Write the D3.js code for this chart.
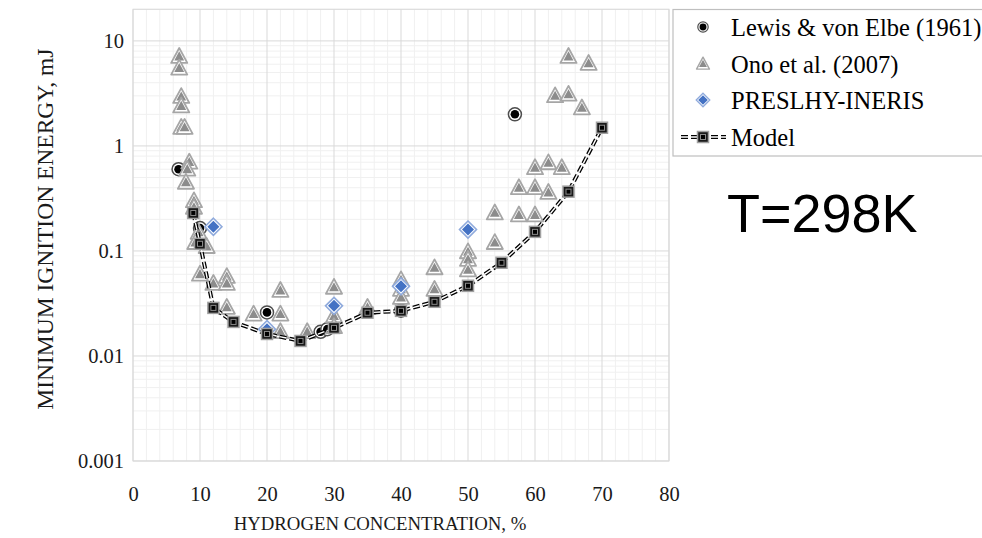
<!DOCTYPE html>
<html><head><meta charset="utf-8">
<script src="https://cdn.jsdelivr.net/npm/d3@7"></script>
<style>
html,body{margin:0;padding:0;background:#fff;}
svg{display:block;}
</style></head>
<body>
<svg id="chart" width="982" height="538"></svg>
<script>
// ---- data ----
const lewisX = [6.8, 10, 20, 28, 29, 40, 57];
const lewisY = [0.60, 0.165, 0.026, 0.017, 0.018, 0.027, 2.0];

const onoX = [6.9, 6.9, 7.2, 7.2, 7.2, 7.7, 8.4, 8.1, 7.9, 9.1, 9.1, 9.8, 9.3, 11, 10, 12, 14, 14, 14, 18, 22, 22, 22, 26, 30, 30, 30, 35, 40, 40, 40, 45, 45, 50, 50, 50, 54, 54, 57.6, 60, 57.6, 60, 62, 60, 62, 64, 63, 65, 67, 65, 68];
const onoY = [7.1, 5.5, 2.95, 2.4, 1.5, 1.5, 0.70, 0.60, 0.45, 0.30, 0.26, 0.15, 0.12, 0.11, 0.06, 0.049, 0.057, 0.049, 0.029, 0.025, 0.042, 0.025, 0.017, 0.017, 0.045, 0.024, 0.019, 0.029, 0.053, 0.043, 0.036, 0.069, 0.043, 0.098, 0.083, 0.066, 0.23, 0.12, 0.22, 0.22, 0.40, 0.40, 0.36, 0.62, 0.69, 0.62, 3.0, 3.1, 2.3, 7.1, 6.1];

const preslhyX = [12, 20, 30, 40, 50];
const preslhyY = [0.17, 0.018, 0.030, 0.046, 0.16];

const modelX = [9, 10, 12, 15, 20, 25, 30, 35, 40, 45, 50, 55, 60, 65, 70];
const modelY = [0.23, 0.117, 0.0287, 0.0211, 0.0162, 0.0139, 0.0185, 0.0258, 0.0269, 0.0328, 0.0466, 0.0772, 0.152, 0.367, 1.49];

const xTickValues = [0, 10, 20, 30, 40, 50, 60, 70, 80];
const yTickValues = [0.001, 0.01, 0.1, 1, 10];
const yTickLabels = ["0.001", "0.01", "0.1", "1", "10"];
const seriesNames = ["Lewis & von Elbe (1961)", "Ono et al. (2007)", "PRESLHY-INERIS", "Model"];

// ---- layout ----
const svg = d3.select("#chart");
const L = 133, R = 669, T = 9.3, B = 461;
const x = d3.scaleLinear().domain([0, 80]).range([L, R]);
const y = d3.scaleLog().domain([0.001, 20]).range([B, T]);
const serif = "'Liberation Serif','Times New Roman',serif";
const tickFont = 20.5, xTitleFont = 18.8, yTitleFont = 23.5, legendFont = 24.5;

// gridlines
const g = svg.append("g");
const minorX = d3.range(0, 81, 2).filter(v => v % 10 !== 0);
g.selectAll(".mx").data(minorX).join("line")
  .attr("x1", d => x(d)).attr("x2", d => x(d)).attr("y1", T).attr("y2", B)
  .attr("stroke", "#f0f0f0").attr("stroke-width", 1);
const minorY = [];
[0.001, 0.01, 0.1, 1, 10].forEach(dec => { for (let k = 2; k <= 9; k++) { const v = dec * k; if (v <= 20) minorY.push(v); } });
g.selectAll(".my").data(minorY).join("line")
  .attr("x1", L).attr("x2", R).attr("y1", d => y(d)).attr("y2", d => y(d))
  .attr("stroke", "#f0f0f0").attr("stroke-width", 1);
g.selectAll(".Mx").data(xTickValues).join("line")
  .attr("x1", d => x(d)).attr("x2", d => x(d)).attr("y1", T).attr("y2", B)
  .attr("stroke", "#d9d9d9").attr("stroke-width", 1);
g.selectAll(".My").data(yTickValues).join("line")
  .attr("x1", L).attr("x2", R).attr("y1", d => y(d)).attr("y2", d => y(d))
  .attr("stroke", "#d9d9d9").attr("stroke-width", 1);
g.append("rect").attr("x", L).attr("y", T).attr("width", R - L).attr("height", B - T)
  .attr("fill", "none").attr("stroke", "#d9d9d9").attr("stroke-width", 1);

// axes (labels only)
const xAxis = svg.append("g").attr("transform", `translate(0,${B + 22})`)
  .call(d3.axisBottom(x).tickValues(xTickValues).tickSize(0).tickFormat(d3.format("d")));
xAxis.select(".domain").remove();
xAxis.selectAll("text").attr("font-family", serif).attr("font-size", tickFont).attr("fill", "#1a1a1a").attr("dy", "0.71em");
const yAxis = svg.append("g").attr("transform", `translate(${L - 6},0)`)
  .call(d3.axisLeft(y).tickValues(yTickValues).tickSize(0).tickFormat((d, i) => yTickLabels[i]));
yAxis.select(".domain").remove();
yAxis.selectAll("text").attr("font-family", serif).attr("font-size", tickFont).attr("fill", "#1a1a1a");

svg.append("text").attr("x", 380).attr("y", 530).attr("text-anchor", "middle")
  .attr("font-family", serif).attr("font-size", xTitleFont).attr("fill", "#1a1a1a")
  .text("HYDROGEN CONCENTRATION, %");
svg.append("text").attr("transform", `translate(53,${(T + B) / 2 - 6}) rotate(-90)`).attr("text-anchor", "middle")
  .attr("font-family", serif).attr("font-size", yTitleFont).attr("fill", "#1a1a1a")
  .text("MINIMUM IGNITION ENERGY, mJ");

// marker drawers
function lewisMarker(sel) {
  sel.append("circle").attr("r", 6.5).attr("fill", "#fff").attr("stroke", "#4d4d4d").attr("stroke-width", 1.5);
  sel.append("circle").attr("r", 4.3).attr("fill", "#000");
}
const tri = (s) => `M0,${-s}L${s * 0.95},${s * 0.75}L${-s * 0.95},${s * 0.75}Z`;
function onoMarker(sel) {
  sel.append("path").attr("d", tri(8.5)).attr("fill", "#fff").attr("stroke", "#a6a6a6").attr("stroke-width", 1.8).attr("stroke-linejoin", "round");
  sel.append("path").attr("d", tri(5.2)).attr("fill", "#8c8c8c");
}
const dia = (s) => `M0,${-s}L${s},0L0,${s}L${-s},0Z`;
function presMarker(sel) {
  sel.append("path").attr("d", dia(8.5)).attr("fill", "#fff").attr("stroke", "#8faadc").attr("stroke-width", 1.6);
  sel.append("path").attr("d", dia(6)).attr("fill", "#4472c4");
}
function modelMarker(sel) {
  sel.append("rect").attr("x", -5.5).attr("y", -5.5).attr("width", 11).attr("height", 11).attr("fill", "#1a1a1a").attr("stroke", "#a0a0a0").attr("stroke-width", 1.5);
  sel.append("rect").attr("x", -2.5).attr("y", -2.5).attr("width", 5).attr("height", 5).attr("fill", "#000").attr("stroke", "#8a8a8a").attr("stroke-width", 1);
}

// series
const lewis = lewisX.map((v, i) => [v, lewisY[i]]);
const ono = onoX.map((v, i) => [v, onoY[i]]);
const pres = preslhyX.map((v, i) => [v, preslhyY[i]]);
const model = modelX.map((v, i) => [v, modelY[i]]);

svg.append("g").selectAll("g").data(lewis).join("g")
  .attr("transform", d => `translate(${x(d[0])},${y(d[1])})`).each(function () { lewisMarker(d3.select(this)); });
svg.append("g").selectAll("g").data(ono).join("g")
  .attr("transform", d => `translate(${x(d[0])},${y(d[1])})`).each(function () { onoMarker(d3.select(this)); });
svg.append("g").selectAll("g").data(pres).join("g")
  .attr("transform", d => `translate(${x(d[0])},${y(d[1])})`).each(function () { presMarker(d3.select(this)); });

const line = d3.line().x(d => x(d[0])).y(d => y(d[1]));
svg.append("path").datum(model).attr("d", line).attr("fill", "none").attr("stroke", "#000").attr("stroke-width", 4).attr("stroke-dasharray", "7,3");
svg.append("path").datum(model).attr("d", line).attr("fill", "none").attr("stroke", "#fff").attr("stroke-width", 1.4).attr("stroke-dasharray", "7,3");
svg.append("g").selectAll("g").data(model).join("g")
  .attr("transform", d => `translate(${x(d[0])},${y(d[1])})`).each(function () { modelMarker(d3.select(this)); });

// legend
const lg = svg.append("g");
lg.append("rect").attr("x", 673).attr("y", 9.5).attr("width", 330).attr("height", 146.5)
  .attr("fill", "#fff").attr("stroke", "#bfbfbf").attr("stroke-width", 1.2);
const rowY = [27, 64, 100, 137];
const drawers = [lewisMarker, onoMarker, presMarker, modelMarker];
seriesNames.forEach((name, i) => {
  const row = lg.append("g").attr("transform", `translate(0,${rowY[i]})`);
  if (i === 3) {
    row.append("line").attr("x1", 681).attr("x2", 726).attr("y1", 0).attr("y2", 0).attr("stroke", "#000").attr("stroke-width", 4).attr("stroke-dasharray", "7,3");
    row.append("line").attr("x1", 681).attr("x2", 726).attr("y1", 0).attr("y2", 0).attr("stroke", "#fff").attr("stroke-width", 1.4).attr("stroke-dasharray", "7,3");
  }
  const m = row.append("g").attr("transform", `translate(703,0) scale(${i === 3 ? 1 : 0.8})`);
  drawers[i](m);
  row.append("text").attr("x", 731).attr("y", 0).attr("dy", "0.35em")
    .attr("font-family", serif).attr("font-size", legendFont).attr("fill", "#000").text(name);
});

svg.append("text").attr("x", 727).attr("y", 232).attr("font-family", "'Liberation Sans',Arial,sans-serif")
  .attr("font-size", 54).attr("fill", "#000").text("T=298K");
</script>
</body></html>
